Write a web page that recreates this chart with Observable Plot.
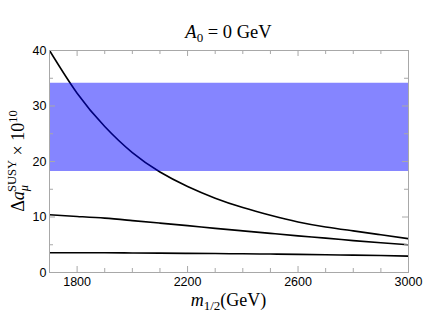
<!DOCTYPE html>
<html>
<head>
<meta charset="utf-8">
<script src="https://cdn.jsdelivr.net/npm/d3@7"></script>
<script src="https://cdn.jsdelivr.net/npm/@observablehq/plot@0.6"></script>
<style>
  html, body { margin: 0; padding: 0; background: #fff; }
  #chart { width: 436px; height: 327px; }
</style>
</head>
<body>
<div id="chart"></div>
<script>
// ---- data ----
const mHalf = [1700, 1800, 1900, 2000, 2100, 2200, 2300, 2400, 2500, 2600, 2700, 2800, 2900, 3000];
const curveHigh = [40.0, 32.3, 26.3, 21.6, 18.1, 15.5, 13.4, 11.7, 10.3, 9.1, 8.2, 7.5, 6.8, 6.1];
const curveMid  = [10.4, 10.1, 9.8, 9.35, 8.9, 8.45, 7.95, 7.5, 7.05, 6.6, 6.2, 5.75, 5.35, 5.0];
const curveLow  = [3.55, 3.56, 3.55, 3.52, 3.49, 3.45, 3.41, 3.37, 3.32, 3.27, 3.2, 3.13, 3.05, 2.95];
const bandLimits = [18.2, 34.1];
const xDomain = [1700, 3000];
const yDomain = [0, 40];
const xMajorTicks = [1800, 2200, 2600, 3000];
const xMinorTicks = [1700, 1900, 2000, 2100, 2300, 2400, 2500, 2700, 2800, 2900];
const yMajorTicks = [0, 10, 20, 30, 40];
const yMinorTicks = [5, 15, 25, 35];

// ---- layout ----
const W = 436, H = 327;
const mL = 49, mR = 28, mT = 50, mB = 55;
const innerW = W - mL - mR, innerH = H - mT - mB;
const frameColor = "#a8a8a8";

const series = [curveHigh, curveMid, curveLow].map((vals, k) =>
  mHalf.map((m, i) => ({m, v: vals[i], s: k})));
const rows = series.flat();

const tickMarks = (len, minorLen) => [
  Plot.ruleX(xMajorTicks, {x: d => d, insetTop: innerH - len, stroke: frameColor}),
  Plot.ruleX(xMajorTicks, {x: d => d, insetBottom: innerH - len, stroke: frameColor}),
  Plot.ruleX(xMinorTicks, {x: d => d, insetTop: innerH - minorLen, stroke: frameColor}),
  Plot.ruleX(xMinorTicks, {x: d => d, insetBottom: innerH - minorLen, stroke: frameColor}),
  Plot.ruleY(yMajorTicks, {y: d => d, insetRight: innerW - len, stroke: frameColor}),
  Plot.ruleY(yMajorTicks, {y: d => d, insetLeft: innerW - len, stroke: frameColor}),
  Plot.ruleY(yMinorTicks, {y: d => d, insetRight: innerW - minorLen, stroke: frameColor}),
  Plot.ruleY(yMinorTicks, {y: d => d, insetLeft: innerW - minorLen, stroke: frameColor})
];

const chart = Plot.plot({
  width: W, height: H,
  marginLeft: mL, marginRight: mR, marginTop: mT, marginBottom: mB,
  style: {fontFamily: "'Liberation Sans', Arial, sans-serif", fontSize: "12px", background: "#fff", overflow: "visible"},
  x: {domain: xDomain},
  y: {domain: yDomain},
  marks: [
    Plot.lineY(rows, {x: "m", y: "v", z: "s", stroke: "#000", strokeWidth: 1.6, curve: "natural", clip: true}),
    Plot.rect([bandLimits], {y1: d => d[0], y2: d => d[1], fill: "#0000ff", fillOpacity: 0.48}),
    Plot.frame({stroke: frameColor}),
    ...tickMarks(6, 4),
    Plot.axisX(xMajorTicks, {tickSize: 0, tickPadding: 5, fill: "#000", fontSize: 12.5, label: null, tickFormat: d => String(d)}),
    Plot.axisY(yMajorTicks, {tickSize: 0, tickPadding: 3, fill: "#000", fontSize: 12.5, label: null, tickFormat: d => String(d)})
  ]
});

document.getElementById("chart").appendChild(chart);

// ---- rich-text labels (title, axis labels) ----
const svg = d3.select(chart);
const serif = "'Liberation Serif', 'DejaVu Serif', serif";

const title = svg.append("text")
  .attr("x", mL + innerW / 2).attr("y", 38)
  .attr("text-anchor", "middle")
  .attr("font-family", serif).attr("font-size", 18.5).attr("fill", "#000");
title.append("tspan").attr("font-style", "italic").text("A");
title.append("tspan").attr("font-size", 13).attr("dy", 4).text("0");
title.append("tspan").attr("dy", -4).text(" = 0 GeV");

const xl = svg.append("text")
  .attr("x", mL + innerW / 2).attr("y", 306)
  .attr("text-anchor", "middle")
  .attr("font-family", serif).attr("font-size", 18).attr("fill", "#000");
xl.append("tspan").attr("font-style", "italic").text("m");
xl.append("tspan").attr("font-size", 13).attr("dy", 4).text("1/2");
xl.append("tspan").attr("dy", -4).text("(GeV)");

const yl = svg.append("text")
  .attr("transform", `translate(24,${mT + innerH / 2}) rotate(-90)`)
  .attr("text-anchor", "middle")
  .attr("font-family", serif).attr("font-size", 18).attr("fill", "#000");
yl.append("tspan").text("Δ");
yl.append("tspan").attr("font-style", "italic").text("a");
yl.append("tspan").attr("font-style", "italic").attr("font-size", 12.5).attr("dy", 4).text("μ");
yl.append("tspan").attr("font-size", 12.5).attr("dx", -7).attr("dy", -12).text("SUSY");
yl.append("tspan").attr("dy", 8).text(" × 10");
yl.append("tspan").attr("font-size", 12.5).attr("dy", -7).text("10");
</script>
</body>
</html>
